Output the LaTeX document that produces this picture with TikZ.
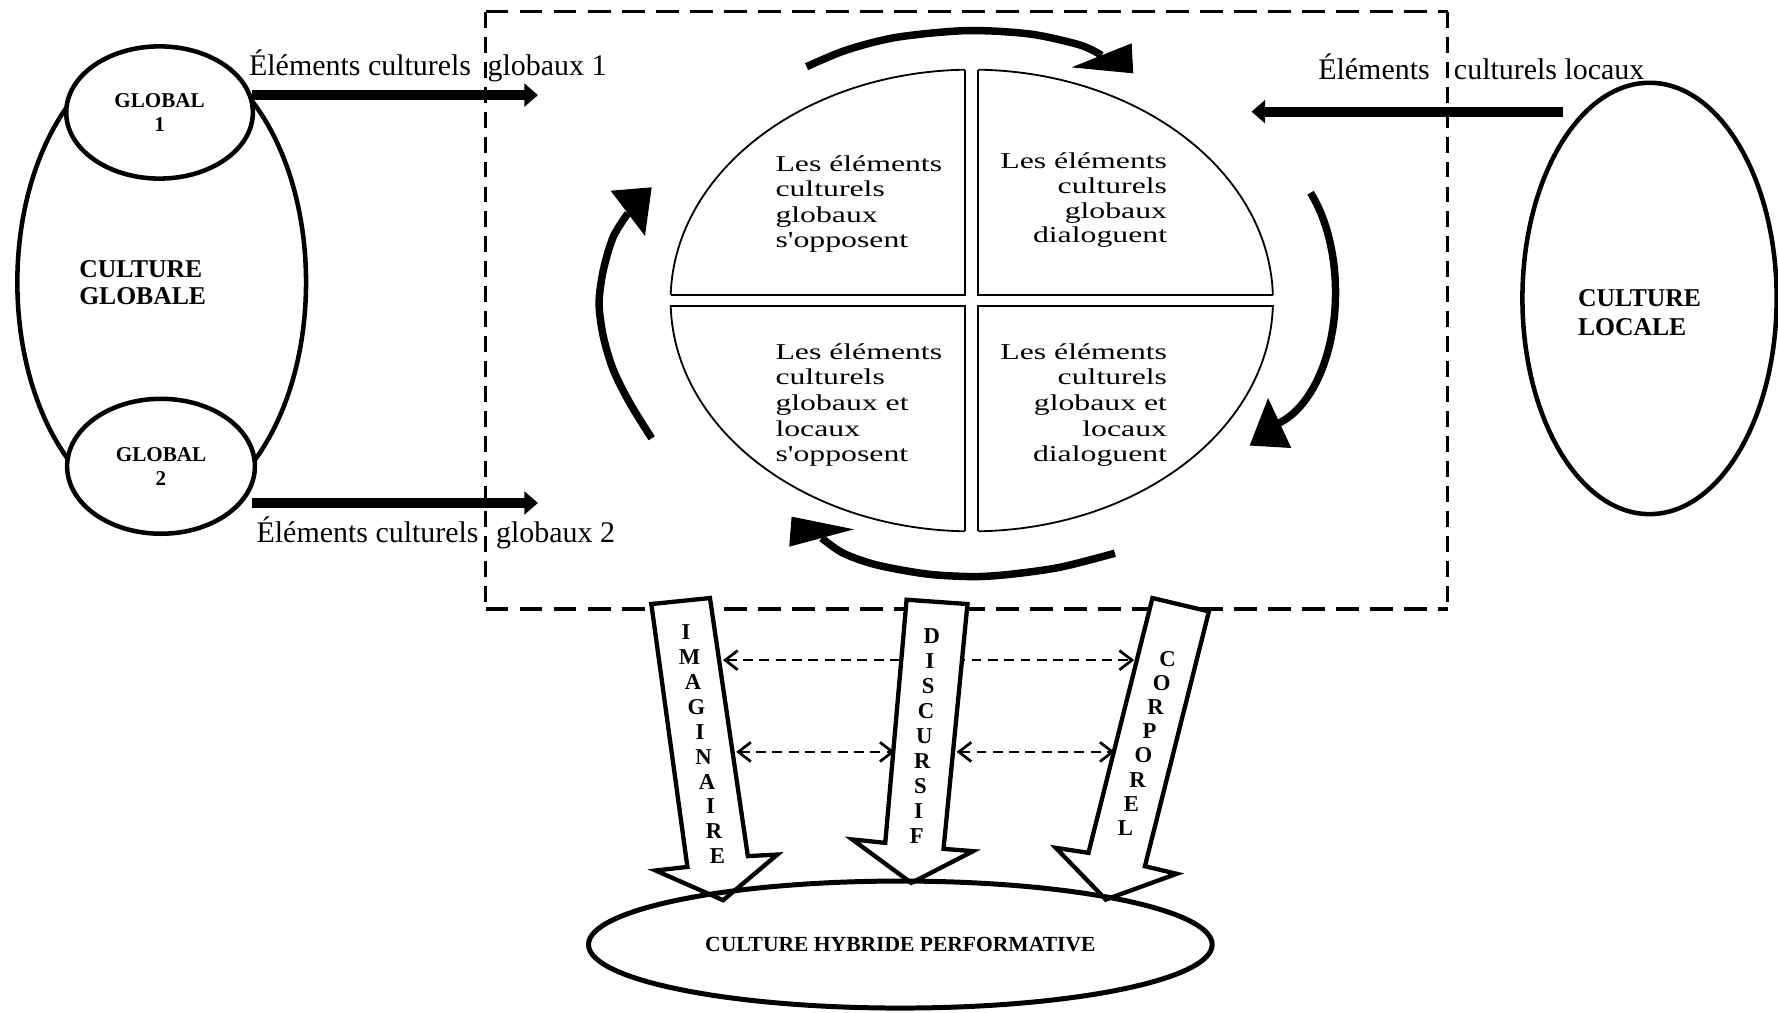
\documentclass[tikz,border=0pt]{standalone}
\usepackage{fontspec}
\setmainfont{Liberation Serif}
\newfontfamily\quadfont[FakeStretch=1.4]{Liberation Serif}
\usetikzlibrary{arrows.meta,shapes.geometric}
\begin{document}
\begin{tikzpicture}[x=0.5pt,y=-0.5pt,
  ell/.style={ellipse, draw, line width=2pt, inner sep=0pt, fill=white},
  fatarrow/.style={line width=4.3pt, -{Triangle[length=6pt,width=10pt]}},
  boxdashh/.style={line width=1.4pt, dash pattern=on 10pt off 5pt},
  boxdashv/.style={line width=1.4pt, dash pattern=on 7pt off 4pt},
  quad/.style={line width=0.8pt},
  cyc/.style={line width=3.3pt},
  blockarrow/.style={draw, line width=1.9pt, fill=white, line join=miter},
  dasharr/.style={line width=0.7pt, dash pattern=on 4.4pt off 2.8pt,
     {Straight Barb[length=5.5pt,width=8.5pt,line width=1.2pt]}-{Straight Barb[length=5.5pt,width=8.5pt,line width=1.2pt]}},
  lbl/.style={inner sep=0pt, font=\fontsize{13.2}{15}\selectfont},
  qtext/.style={inner sep=0pt, font=\quadfont\fontsize{10}{11.25}\selectfont},
  bigbold/.style={inner sep=0pt, align=left, font=\bfseries\fontsize{11.3}{11.65}\selectfont},
  smallbold/.style={align=center, font=\bfseries\fontsize{9.3}{10.7}\selectfont},
  letter/.style={inner sep=0pt, font=\bfseries\fontsize{10}{10}\selectfont},
]
\useasboundingbox (0,0) rectangle (1568,893);

% ---- culture globale
\node[ell, minimum width=127.3pt, minimum height=205pt] (cg) at (142.6,249) {};
\node[ell, smallbold, minimum width=82.3pt, minimum height=58.3pt] (g1) at (140.7,99.2) {GLOBAL\\1};
\node[ell, smallbold, minimum width=82.8pt, minimum height=59.5pt] (g2) at (142,411.2) {GLOBAL\\2};
\node[bigbold, anchor=north west] (cgt) at (69.5,229.8) {CULTURE\\GLOBALE};

% ---- culture locale
\node[ell, minimum width=112.1pt, minimum height=190.2pt] (cl) at (1454.7,263.2) {};
\node[bigbold, anchor=north west, font=\bfseries\fontsize{11.3}{12.9}\selectfont] (clt) at (1391.3,255) {CULTURE\\LOCALE};

% ---- dashed box
\coordinate (b1) at (428.4,10.5);
\coordinate (b2) at (1276.6,10.5);
\coordinate (b3) at (1276.6,537);
\coordinate (b4) at (428.4,537);
\draw[boxdashh] (b1) -- (b2);
\draw[boxdashv] (b2) -- (b3);
\draw[boxdashh] (b4) -- (b3);
\draw[boxdashv] (b1) -- (b4);

% ---- thick arrows and their labels
\coordinate (a1s) at (222,83.9);   \coordinate (a1e) at (474.4,83.9);
\coordinate (a2s) at (222.2,443.6); \coordinate (a2e) at (474.4,443.6);
\coordinate (a3s) at (1378.3,98.5); \coordinate (a3e) at (1103.7,98.5);
\draw[fatarrow] (a1s) -- (a1e);
\draw[fatarrow] (a2s) -- (a2e);
\draw[fatarrow] (a3s) -- (a3e);
\node[lbl, anchor=base west] (l1) at (219.3,67) {Éléments culturels\hspace{4pt} globaux 1};
\node[lbl, anchor=base west] (l2) at (225.9,478) {Éléments culturels\hspace{4.4pt} globaux 2};
\node[lbl, anchor=base west] (l3) at (1162.2,69.9) {Éléments\hspace{7.4pt} culturels locaux};

% ---- central divided ellipse
\begin{scope}
  \clip (570,40) rectangle (851,260.1);
  \draw[quad] (857,265) ellipse [x radius=265.6, y radius=203.6];
\end{scope}
\draw[quad] (851,61.5) -- (851,260.1) -- (591.5,260.1);
\begin{scope}
  \clip (862.7,40) rectangle (1140,260.1);
  \draw[quad] (857,265) ellipse [x radius=265.6, y radius=203.6];
\end{scope}
\draw[quad] (862.7,61.5) -- (862.7,260.1) -- (1122.5,260.1);
\begin{scope}
  \clip (570,269.8) rectangle (851,480);
  \draw[quad] (857,265) ellipse [x radius=265.6, y radius=203.6];
\end{scope}
\draw[quad] (851,468.5) -- (851,269.8) -- (591.5,269.8);
\begin{scope}
  \clip (862.7,269.8) rectangle (1140,480);
  \draw[quad] (857,265) ellipse [x radius=265.6, y radius=203.6];
\end{scope}
\draw[quad] (862.7,468.5) -- (862.7,269.8) -- (1122.5,269.8);

\node[qtext, anchor=north west, align=left] (q1) at (683.5,136.9)
  {Les éléments\\culturels\\globaux\\s'opposent};
\node[qtext, anchor=north east, align=right, font=\quadfont\fontsize{10}{10.9}\selectfont] (q2) at (1029.6,134.5)
  {Les éléments\\culturels\\globaux\\dialoguent};
\node[qtext, anchor=north west, align=left, font=\quadfont\fontsize{10}{11.3}\selectfont] (q3) at (683.5,302.6)
  {Les éléments\\culturels\\globaux et\\locaux\\s'opposent};
\node[qtext, anchor=north east, align=right, font=\quadfont\fontsize{10}{11.3}\selectfont] (q4) at (1029.6,302.6)
  {Les éléments\\culturels\\globaux et\\locaux\\dialoguent};

% ---- circular arrows
\draw[cyc] plot[smooth] coordinates {(711.3,58.8) (746.6,44.1) (790.7,32.9) (852.4,27.0) (908.3,30.0) (952.4,39.7) (971.5,48.8)};
\fill (999.4,64.7) -- (945,59.4) -- (998,38.2) -- cycle;
\draw[cyc] plot[domain=-47.5:74.4, samples=40, smooth] ({1109.8+68*cos(\x)}, {258+119.4*sin(\x)});
\fill (1102.1,392.9) -- (1118.3,351) -- (1138.8,395.1) -- cycle;
\draw[cyc] plot[smooth] coordinates {(983.2,487.9) (934.7,500.3) (890.6,506.5) (858.3,508.5) (817.2,506.2) (773.1,498.2) (743.7,487.9) (724.6,474.5)};
\fill (698.1,455.6) -- (696,482.1) -- (753.1,466.8) -- cycle;
\draw[cyc] plot[smooth] coordinates {(574.7,386.5) (555.6,355.7) (540.9,326.3) (532.1,296.9) (528.3,267.5) (532.1,238.1) (540.9,208.7) (553.7,188.2)};
\fill (574.7,165.2) -- (538.5,168.2) -- (568.8,208.1) -- cycle;

% ---- dashed link behind the block arrows
\coordinate (d1a) at (637.6,582.2); \coordinate (d1b) at (1000.2,582.2);
\draw[dasharr] (d1a) -- (d1b);

% ---- block arrows
\draw[blockarrow] (574.4,532.7) -- (626.1,527.4) -- (659.5,755) -- (685.6,753.6) -- (637.7,793.9) -- (578.2,767.7) -- (606.2,764.5) -- cycle;
\draw[blockarrow] (799.5,528.9) -- (853.2,532.7) -- (832.1,748.6) -- (858.2,750.6) -- (803.7,778.6) -- (751.6,740.3) -- (780.7,743.3) -- cycle;
\draw[blockarrow] (1016.3,527.4) -- (1066.1,539.2) -- (1009.7,763.9) -- (1037.7,770.6) -- (975.2,793.3) -- (931.1,747.7) -- (959.9,752.1) -- cycle;

\foreach \c [count=\i from 0] in {I,M,A,G,I,N,A,I,R,E}
  \node[letter] (im\i) at ({605+3.08*\i},{557.7+21.92*\i}) {\c};
\foreach \c [count=\i from 0] in {D,I,S,C,U,R,S,I,F}
  \node[letter] (di\i) at ({821.8-1.675*\i},{560.7+22.09*\i}) {\c};
\foreach \c [count=\i from 0] in {C,O,R,P,O,R,E,L}
  \node[letter] (co\i) at ({1029.7-5.31*\i},{581.3+21.24*\i}) {\c};

% ---- lower dashed links
\coordinate (d2a) at (649.2,663.1); \coordinate (d2b) at (789,663.1);
\coordinate (d3a) at (843.6,663.1); \coordinate (d3b) at (983,663.1);
\draw[dasharr] (d2a) -- (d2b);
\draw[dasharr] (d3a) -- (d3b);

% ---- hybrid culture
\node[ell, fill=none, line width=2.2pt, minimum width=275pt, minimum height=56pt,
      font=\bfseries\fontsize{9.5}{11}\selectfont] (hyb) at (794,833) {CULTURE HYBRIDE PERFORMATIVE};
\end{tikzpicture}
\end{document}
